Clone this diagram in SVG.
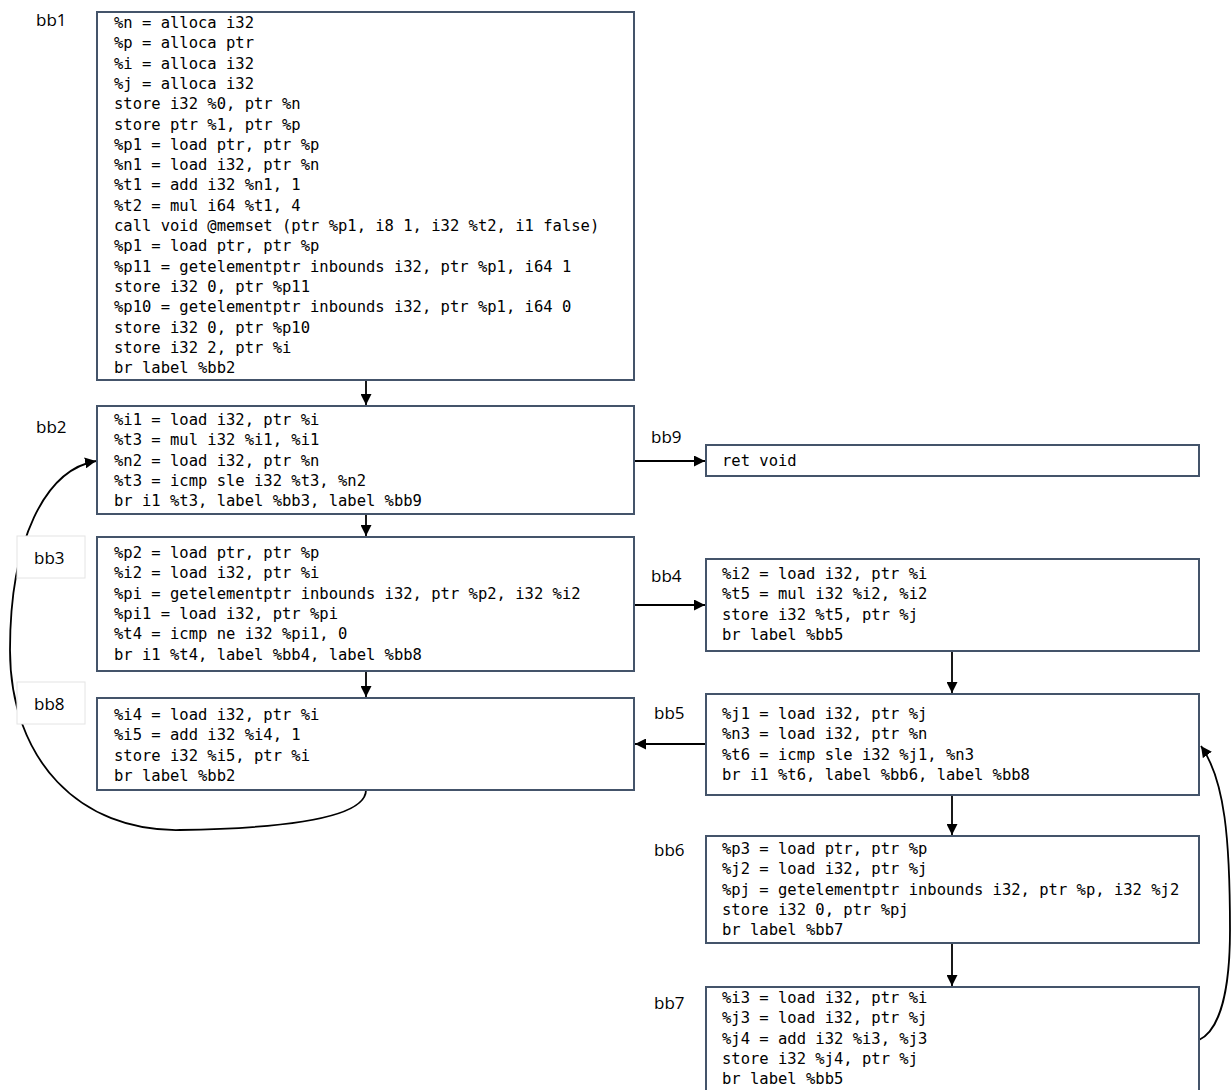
<svg xmlns="http://www.w3.org/2000/svg" width="1231" height="1090" viewBox="0 0 1231 1090">
<style>
.box{fill:#fff;stroke:#44546A;stroke-width:2}
.code{font-family:"DejaVu Sans Mono","Liberation Mono",monospace;font-size:15.5px;fill:#000}
.lbl{font-family:"Open Sans","Liberation Sans",sans-serif;font-size:17px;fill:#000}
.lbox{fill:#fff;stroke:#e4e4e4;stroke-width:1}
.edge{fill:none;stroke:#000;stroke-width:1.8}
</style>
<defs>
<marker id="ah" viewBox="0 0 10 10" refX="10" refY="5" markerWidth="11" markerHeight="11" markerUnits="userSpaceOnUse" orient="auto">
<path d="M0,0 L10,5 L0,10 z" fill="#000"/>
</marker>
</defs>
<rect width="1231" height="1090" fill="#fff"/>
<g id="connectors">
<path class="edge" d="M366,380 V405" marker-end="url(#ah)"/>
<path class="edge" d="M366,514 V536" marker-end="url(#ah)"/>
<path class="edge" d="M366,671 V697" marker-end="url(#ah)"/>
<path class="edge" d="M634,461 H705" marker-end="url(#ah)"/>
<path class="edge" d="M634,605 H705" marker-end="url(#ah)"/>
<path class="edge" d="M952,651 V693" marker-end="url(#ah)"/>
<path class="edge" d="M706,744 H635" marker-end="url(#ah)"/>
<path class="edge" d="M952,795 V835" marker-end="url(#ah)"/>
<path class="edge" d="M952,943 V986" marker-end="url(#ah)"/>
<path class="edge" d="M366,790 C366,815 300,828 180,830 C80,832 10,760 10,650 C10,540 45,470 96,461" marker-end="url(#ah)"/>
<path class="edge" d="M1199,1040 C1220,1030 1230,990 1230,930 C1230,840 1225,780 1201,746" marker-end="url(#ah)"/>
</g>
<g id="bb1">
<text class="lbl" x="36" y="26">bb1</text>
<rect class="box" x="97" y="12" width="537" height="368"/>
<text class="code">
<tspan x="114" y="28">%n = alloca i32</tspan>
<tspan x="114" y="48.3">%p = alloca ptr</tspan>
<tspan x="114" y="68.6">%i = alloca i32</tspan>
<tspan x="114" y="88.9">%j = alloca i32</tspan>
<tspan x="114" y="109.2">store i32 %0, ptr %n</tspan>
<tspan x="114" y="129.5">store ptr %1, ptr %p</tspan>
<tspan x="114" y="149.8">%p1 = load ptr, ptr %p</tspan>
<tspan x="114" y="170.1">%n1 = load i32, ptr %n</tspan>
<tspan x="114" y="190.4">%t1 = add i32 %n1, 1</tspan>
<tspan x="114" y="210.7">%t2 = mul i64 %t1, 4</tspan>
<tspan x="114" y="231">call void @memset (ptr %p1, i8 1, i32 %t2, i1 false)</tspan>
<tspan x="114" y="251.3">%p1 = load ptr, ptr %p</tspan>
<tspan x="114" y="271.6">%p11 = getelementptr inbounds i32, ptr %p1, i64 1</tspan>
<tspan x="114" y="291.9">store i32 0, ptr %p11</tspan>
<tspan x="114" y="312.2">%p10 = getelementptr inbounds i32, ptr %p1, i64 0</tspan>
<tspan x="114" y="332.5">store i32 0, ptr %p10</tspan>
<tspan x="114" y="352.8">store i32 2, ptr %i</tspan>
<tspan x="114" y="373.1">br label %bb2</tspan>
</text>
</g>
<g id="bb2">
<text class="lbl" x="36" y="433">bb2</text>
<rect class="box" x="97" y="406" width="537" height="108"/>
<text class="code">
<tspan x="114" y="425">%i1 = load i32, ptr %i</tspan>
<tspan x="114" y="445.3">%t3 = mul i32 %i1, %i1</tspan>
<tspan x="114" y="465.6">%n2 = load i32, ptr %n</tspan>
<tspan x="114" y="485.9">%t3 = icmp sle i32 %t3, %n2</tspan>
<tspan x="114" y="506.2">br i1 %t3, label %bb3, label %bb9</tspan>
</text>
</g>
<g id="bb3">
<rect class="lbox" x="17" y="536" width="68" height="42"/>
<text class="lbl" x="34" y="564">bb3</text>
<rect class="box" x="97" y="537" width="537" height="134"/>
<text class="code">
<tspan x="114" y="558">%p2 = load ptr, ptr %p</tspan>
<tspan x="114" y="578.3">%i2 = load i32, ptr %i</tspan>
<tspan x="114" y="598.6">%pi = getelementptr inbounds i32, ptr %p2, i32 %i2</tspan>
<tspan x="114" y="618.9">%pi1 = load i32, ptr %pi</tspan>
<tspan x="114" y="639.2">%t4 = icmp ne i32 %pi1, 0</tspan>
<tspan x="114" y="659.5">br i1 %t4, label %bb4, label %bb8</tspan>
</text>
</g>
<g id="bb8">
<rect class="lbox" x="17" y="682" width="68" height="42"/>
<text class="lbl" x="34" y="710">bb8</text>
<rect class="box" x="97" y="698" width="537" height="92"/>
<text class="code">
<tspan x="114" y="720">%i4 = load i32, ptr %i</tspan>
<tspan x="114" y="740.3">%i5 = add i32 %i4, 1</tspan>
<tspan x="114" y="760.6">store i32 %i5, ptr %i</tspan>
<tspan x="114" y="780.9">br label %bb2</tspan>
</text>
</g>
<g id="bb9">
<text class="lbl" x="651" y="443">bb9</text>
<rect class="box" x="706" y="445" width="493" height="31"/>
<text class="code" x="722" y="466">ret void</text>
</g>
<g id="bb4">
<text class="lbl" x="651" y="582">bb4</text>
<rect class="box" x="706" y="559" width="493" height="92"/>
<text class="code">
<tspan x="722" y="579">%i2 = load i32, ptr %i</tspan>
<tspan x="722" y="599.3">%t5 = mul i32 %i2, %i2</tspan>
<tspan x="722" y="619.6">store i32 %t5, ptr %j</tspan>
<tspan x="722" y="639.9">br label %bb5</tspan>
</text>
</g>
<g id="bb5">
<text class="lbl" x="654" y="719">bb5</text>
<rect class="box" x="706" y="694" width="493" height="101"/>
<text class="code">
<tspan x="722" y="719">%j1 = load i32, ptr %j</tspan>
<tspan x="722" y="739.3">%n3 = load i32, ptr %n</tspan>
<tspan x="722" y="759.6">%t6 = icmp sle i32 %j1, %n3</tspan>
<tspan x="722" y="779.9">br i1 %t6, label %bb6, label %bb8</tspan>
</text>
</g>
<g id="bb6">
<text class="lbl" x="654" y="856">bb6</text>
<rect class="box" x="706" y="836" width="493" height="107"/>
<text class="code">
<tspan x="722" y="854">%p3 = load ptr, ptr %p</tspan>
<tspan x="722" y="874.3">%j2 = load i32, ptr %j</tspan>
<tspan x="722" y="894.6">%pj = getelementptr inbounds i32, ptr %p, i32 %j2</tspan>
<tspan x="722" y="914.9">store i32 0, ptr %pj</tspan>
<tspan x="722" y="935.2">br label %bb7</tspan>
</text>
</g>
<g id="bb7">
<text class="lbl" x="654" y="1009">bb7</text>
<rect class="box" x="706" y="987" width="493" height="110"/>
<text class="code">
<tspan x="722" y="1003">%i3 = load i32, ptr %i</tspan>
<tspan x="722" y="1023.3">%j3 = load i32, ptr %j</tspan>
<tspan x="722" y="1043.6">%j4 = add i32 %i3, %j3</tspan>
<tspan x="722" y="1063.9">store i32 %j4, ptr %j</tspan>
<tspan x="722" y="1084.2">br label %bb5</tspan>
</text>
</g>
</svg>
